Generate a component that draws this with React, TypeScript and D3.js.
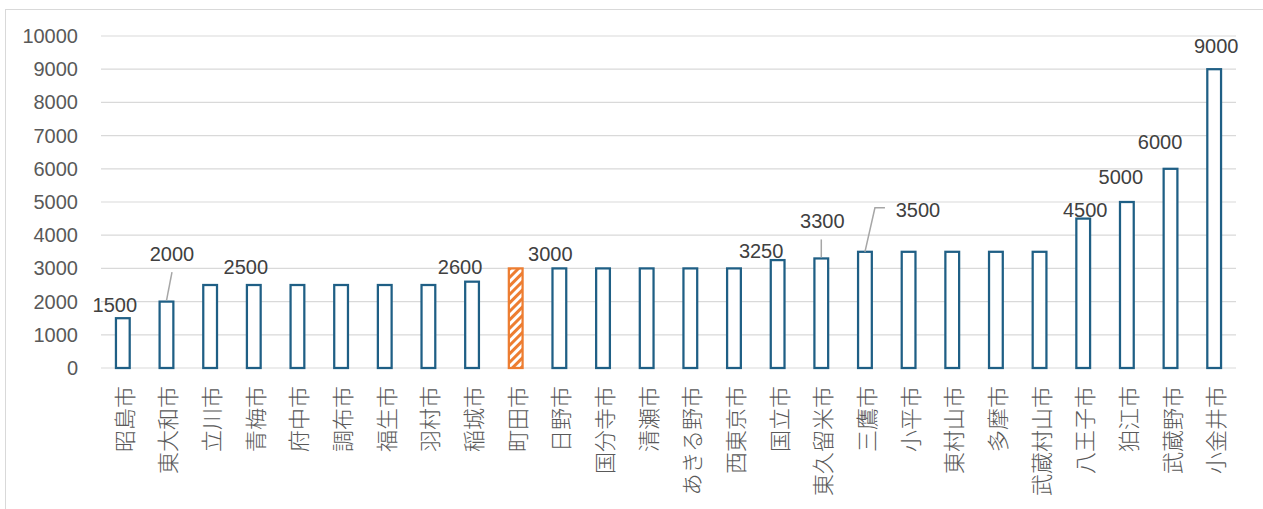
import React from "react";
import * as d3 from "d3";

const categories = [
  "昭島市", "東大和市", "立川市", "青梅市", "府中市", "調布市", "福生市", "羽村市", "稲城市",
  "町田市", "日野市", "国分寺市", "清瀬市", "あきる野市", "西東京市", "国立市", "東久留米市",
  "三鷹市", "小平市", "東村山市", "多摩市", "武蔵村山市", "八王子市", "狛江市", "武蔵野市", "小金井市",
];
const values = [
  1500, 2000, 2500, 2500, 2500, 2500, 2500, 2500, 2600,
  3000, 3000, 3000, 3000, 3000, 3000, 3250, 3300,
  3500, 3500, 3500, 3500, 3500, 4500, 5000, 6000, 9000,
];
const highlighted = ["町田市"];
const yTicks = [0, 1000, 2000, 3000, 4000, 5000, 6000, 7000, 8000, 9000, 10000];

// data labels: which category, and offset (px) of label centre from bar-top centre
const labelCats = ["昭島市", "東大和市", "青梅市", "稲城市", "日野市", "国立市", "東久留米市", "三鷹市", "八王子市", "狛江市", "武蔵野市", "小金井市"];
const labelDx = [-8, 5.5, -8, -12, -9, -16.5, 1, 53, 2, -6, -10.5, 2];
const labelDy = [-13, -47.5, -18, -14.5, -14.5, -9, -37, -42, -9, -25, -27, -23];
// leader lines: list of [dx,dy] points relative to bar-top centre
const leaderCats = ["東大和市", "東久留米市", "三鷹市"];
const leaderPts: [number, number][][] = [
  [[0, -1], [5.5, -29.5]],
  [[0, -1], [0, -19]],
  [[0, 0], [10, -44], [20, -44]],
];

const W = 1263;
const H = 509;

export default function App() {
  const x = d3.scaleBand<string>().domain(categories).range([101, 1236]).paddingInner(0.685).paddingOuter(0.3425);
  const y = d3.scaleLinear().domain([0, 10000]).range([368, 36]);
  const bw = x.bandwidth();
  const cx = (c: string) => (x(c) as number) + bw / 2;
  const valOf = (c: string) => values[categories.indexOf(c)];
  const line = d3.line();

  return (
    <svg width={W} height={H} style={{ position: "absolute", left: 0, top: 0, background: "#fff" }}>
      <defs>
        <pattern id="hatch" patternUnits="userSpaceOnUse" width={6} height={6} patternTransform="rotate(45)">
          <rect width={6} height={6} fill="#ED7D31" />
          <line x1={1.5} y1={0} x2={1.5} y2={6} stroke="#fff" strokeWidth={3} />
        </pattern>
      </defs>
      <rect x={5.5} y={9.5} width={1262} height={520} fill="#fff" stroke="#d9d9d9" strokeWidth={1} />
      {yTicks.map((t) => (
        <g key={t}>
          <line x1={101} x2={1236} y1={y(t)} y2={y(t)} stroke="#d9d9d9" strokeWidth={1.2} />
          <text x={78} y={y(t)} textAnchor="end" dominantBaseline="central"
            fontFamily="'Liberation Sans', Arial, sans-serif" fontSize={20} fill="#595959">{t}</text>
        </g>
      ))}
      {categories.map((c, i) => {
        const hl = highlighted.includes(c);
        return (
          <rect key={c} x={x(c)} y={y(values[i])} width={bw} height={y(0) - y(values[i])}
            fill={hl ? "url(#hatch)" : "#fff"} stroke={hl ? "#ED7D31" : "#1F5F85"} strokeWidth={2.25} />
        );
      })}
      {leaderCats.map((c, i) => (
        <path key={c} d={line(leaderPts[i].map(([dx, dy]) => [cx(c) + dx, y(valOf(c)) + dy]) as [number, number][]) || ""}
          fill="none" stroke="#a6a6a6" strokeWidth={1.5} />
      ))}
      {labelCats.map((c, i) => (
        <text key={c} x={cx(c) + labelDx[i]} y={y(valOf(c)) + labelDy[i]} textAnchor="middle" dominantBaseline="central"
          fontFamily="'Liberation Sans', Arial, sans-serif" fontSize={20} fill="#404040">{valOf(c)}</text>
      ))}
      {categories.map((c) => (
        <text key={c} transform={`translate(${cx(c)},386) rotate(-90)`} textAnchor="end" dominantBaseline="central"
          fontFamily="'Noto Sans CJK JP', sans-serif" fontWeight={300} fontSize={22} fill="#595959">{c}</text>
      ))}
    </svg>
  );
}
